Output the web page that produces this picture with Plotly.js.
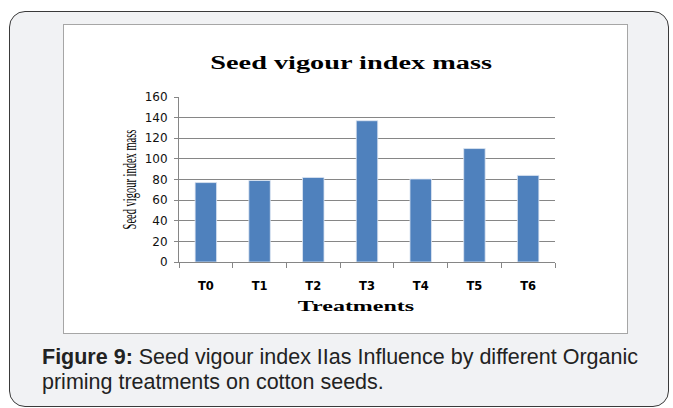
<!DOCTYPE html>
<html>
<head>
<meta charset="utf-8">
<script src="https://cdn.plot.ly/plotly-3.0.1.min.js"></script>
<style>
  body { margin: 0; background: #fff; width: 673px; height: 408px; overflow: hidden; position: relative; }
  #frame {
    position: absolute; left: 9px; top: 11px; width: 658px; height: 394px;
    border: 1.5px solid #3a3a3a; border-radius: 16px; background: #f1f2f4;
  }
  #box {
    position: absolute; left: 63px; top: 24px; width: 563px; height: 308px;
    border: 1px solid #a6a6a6; background: #fff;
  }
  #chart { width: 563px; height: 308px; }
  #caption {
    position: absolute; left: 42px; top: 345px;
    font-family: "Liberation Sans", Arial, sans-serif; font-size: 21.5px;
    line-height: 25px; color: #222;
  }
</style>
</head>
<body>
<div id="frame"></div>
<div id="box"><div id="chart"></div></div>
<div id="caption"><b>Figure 9:</b> Seed vigour index IIas Influence by different Organic<br>priming treatments on cotton seeds.</div>
<script>
// values
const treatments = ['T0', 'T1', 'T2', 'T3', 'T4', 'T5', 'T6'];
const vigourMass = [77, 79, 82, 137, 80.5, 110, 84];
const yTicks = [0, 20, 40, 60, 80, 100, 120, 140, 160];

const trace = {
  type: 'bar',
  x: treatments,
  y: vigourMass,
  marker: { color: '#4f81bd', line: { color: '#dfe7f2', width: 0.8 } },
  hoverinfo: 'x+y'
};

const gray = '#868686';

const layout = {
  width: 563,
  height: 308,
  margin: { l: 115, r: 72, t: 72, b: 71 },
  paper_bgcolor: '#fff',
  plot_bgcolor: '#fff',
  bargap: 0.6,
  showlegend: false,
  title: {
    text: 'Seed vigour index mass',
    x: 0.51, xanchor: 'center',
    y: 0.88, yanchor: 'middle',
    yref: 'container',
    font: { family: '"Liberation Serif", serif', size: 19, color: '#000', weight: 'bold' }
  },
  xaxis: {
    type: 'category',
    tickson: 'boundaries',
    ticks: 'outside', ticklen: 5, tickcolor: gray,
    showline: true, linecolor: gray, linewidth: 1,
    ticklabelstandoff: 13,
    tickfont: { family: '"DejaVu Sans", sans-serif', size: 11.5, color: '#000', weight: 'bold' },
    title: {
      text: 'Treatments', standoff: 8,
      font: { family: '"Liberation Serif", serif', size: 15, color: '#000', weight: 'bold' }
    }
  },
  yaxis: {
    range: [0, 160],
    tickvals: yTicks,
    ticks: 'outside', ticklen: 4, tickcolor: gray,
    showline: true, linecolor: gray, linewidth: 1,
    showgrid: true, gridcolor: gray, gridwidth: 1,
    zeroline: false,
    ticklabelstandoff: 4,
    tickfont: { family: '"DejaVu Sans", sans-serif', size: 12, color: '#111' },
    title: {
      text: 'Seed vigour index mass', standoff: 6,
      font: { family: '"Liberation Serif", serif', size: 10.5, color: '#000' }
    }
  }
};

// the source picture is stretched sideways, so widen the titles the same way
function stretch(sel, s, dx) {
  const el = document.querySelector('#chart ' + sel);
  if (!el) return;
  const x = parseFloat(el.getAttribute('x'));
  const y = parseFloat(el.getAttribute('y'));
  const old = el.getAttribute('transform') || '';
  el.setAttribute('transform',
    `translate(${x + (dx || 0)},${y}) scale(${s},1) translate(${-x},${-y}) ${old}`);
}

Plotly.newPlot('chart', [trace], layout, { displayModeBar: false, staticPlot: true }).then(() => {
  stretch('.gtitle', 1.49);
  stretch('.xtitle', 1.6, -11);
  stretch('.ytitle', 1.8);
});
</script>
</body>
</html>
